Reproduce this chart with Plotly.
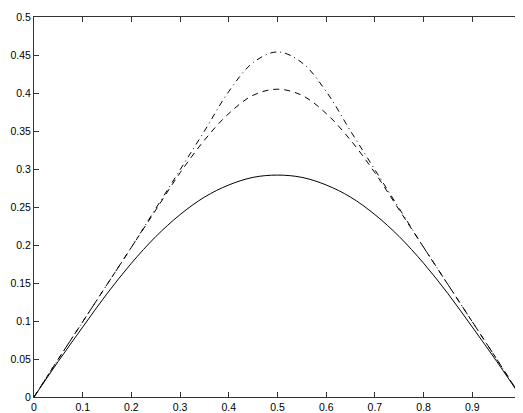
import plotly.graph_objects as go

x_vals = [0, 0.05, 0.1, 0.15, 0.2, 0.25, 0.3, 0.35, 0.4, 0.45, 0.5,
          0.55, 0.6, 0.65, 0.7, 0.75, 0.8, 0.85, 0.9, 0.95, 1.0]
solid_vals = [0, 0.047, 0.092, 0.136, 0.176, 0.211, 0.240, 0.263, 0.279, 0.289, 0.292,
              0.289, 0.279, 0.263, 0.240, 0.211, 0.176, 0.136, 0.092, 0.047, 0]
dashed_vals = [0, 0.050, 0.099, 0.148, 0.197, 0.246, 0.295, 0.338, 0.373, 0.397, 0.405,
               0.397, 0.373, 0.338, 0.295, 0.246, 0.197, 0.148, 0.099, 0.050, 0]
dashdot_vals = [0, 0.050, 0.099, 0.148, 0.197, 0.248, 0.299, 0.350, 0.402, 0.440, 0.454,
                0.440, 0.402, 0.350, 0.299, 0.248, 0.197, 0.148, 0.099, 0.050, 0]

x_ticks = [0, 0.1, 0.2, 0.3, 0.4, 0.5, 0.6, 0.7, 0.8, 0.9, 1]
x_tick_labels = ["0", "0.1", "0.2", "0.3", "0.4", "0.5", "0.6", "0.7", "0.8", "0.9", "1"]
y_ticks = [0, 0.05, 0.1, 0.15, 0.2, 0.25, 0.3, 0.35, 0.4, 0.45, 0.5]
y_tick_labels = ["0", "0.05", "0.1", "0.15", "0.2", "0.25", "0.3", "0.35", "0.4", "0.45", "0.5"]

fig = go.Figure()
fig.add_trace(go.Scatter(x=x_vals, y=solid_vals, mode="lines",
                         line=dict(color="black", width=1, shape="spline", smoothing=1.0),
                         showlegend=False))
fig.add_trace(go.Scatter(x=x_vals, y=dashed_vals, mode="lines",
                         line=dict(color="black", width=1, dash="6px,5px", shape="spline", smoothing=1.0),
                         showlegend=False))
fig.add_trace(go.Scatter(x=x_vals, y=dashdot_vals, mode="lines",
                         line=dict(color="black", width=1, dash="6px,4px,1px,4px", shape="spline", smoothing=1.0),
                         showlegend=False))

axis_common = dict(showline=True, linecolor="#333333", linewidth=1, mirror="ticks",
                   ticks="inside", ticklen=5, tickcolor="#333333", tickwidth=1,
                   showgrid=False, zeroline=False, automargin=False,
                   ticklabeloverflow="allow",
                   tickfont=dict(family="Liberation Sans, Arial, sans-serif", size=10.5, color="black"))

fig.update_xaxes(range=[0, 1], tickvals=x_ticks, ticktext=x_tick_labels, **axis_common)
fig.update_yaxes(range=[0, 0.5], tickvals=y_ticks, ticktext=y_tick_labels, **axis_common)

fig.update_layout(width=523, height=413, margin=dict(l=26, r=10, t=9, b=24, pad=0),
                  plot_bgcolor="white", paper_bgcolor="white")

fig.write_html("out.html")
